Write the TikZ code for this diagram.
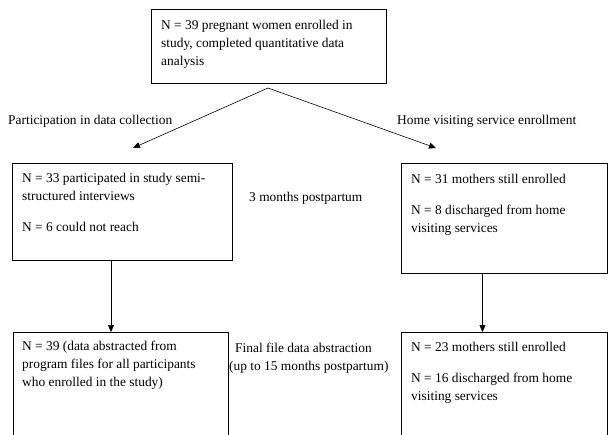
\documentclass[tikz,border=0pt]{standalone}
\usepackage{fontspec}
\setmainfont{Liberation Serif}
\usetikzlibrary{arrows.meta}
\begin{document}
\begin{tikzpicture}[x=1pt,y=-1pt,
  box/.style={draw, line width=0.75pt, rectangle, inner sep=0pt, outer sep=0pt, anchor=north west},
  txt/.style={anchor=base west, inner sep=0pt, font=\fontsize{13.4}{18}\selectfont},
  arr/.style={line width=0.6pt, -{Triangle[length=7pt,width=6pt]}}]
\useasboundingbox (0,0) rectangle (610,434);
\clip (0,0) rectangle (610,434);
% boxes
\node[box, minimum width=235pt, minimum height=74pt] (top) at (151.5,9) {};
\node[box, minimum width=220pt, minimum height=97pt] (midL) at (12.5,163) {};
\node[box, minimum width=205.5pt, minimum height=110pt] (midR) at (401.5,163) {};
\node[box, minimum width=215pt, minimum height=120pt] (botL) at (13,332) {};
\node[box, minimum width=205.5pt, minimum height=120pt] (botR) at (401.5,332) {};
% texts in boxes
\node[txt] (top1) at (161,29) {N = 39 pregnant women enrolled in};
\node[txt] (top2) at (161,47) {study, completed quantitative data};
\node[txt] (top3) at (161,65) {analysis};
\node[txt] (ml1) at (22,182) {N = 33 participated in study semi-};
\node[txt] (ml2) at (22,200) {structured interviews};
\node[txt] (ml3) at (22,231) {N = 6 could not reach};
\node[txt] (mr1) at (411,183) {N = 31 mothers still enrolled};
\node[txt] (mr2) at (411,214) {N = 8 discharged from home};
\node[txt] (mr3) at (411,232) {visiting services};
\node[txt] (bl1) at (22,350) {N = 39 (data abstracted from};
\node[txt] (bl2) at (22,368) {program files for all participants};
\node[txt] (bl3) at (22,386) {who enrolled in the study)};
\node[txt] (br1) at (411,351) {N = 23 mothers still enrolled};
\node[txt] (br2) at (411,382) {N = 16 discharged from home};
\node[txt] (br3) at (411,400) {visiting services};
% free labels
\node[txt] (labL) at (8,124.5) {Participation in data collection};
\node[txt] (labR) at (397,124.5) {Home visiting service enrollment};
\node[txt] (lab3) at (249,201) {3 months postpartum};
\node[txt] (labF1) at (235,352.5) {Final file data abstraction};
\node[txt] (labF2) at (229,370.5) {(up to 15 months postpartum)};
% connectors
\coordinate (apex) at (268,88);
\coordinate (tipL) at (133,148);
\coordinate (tipR) at (436,148);
\coordinate (xL) at (111,0);
\coordinate (xR) at (482.5,0);
\draw[arr] (apex) -- (tipL);
\draw[arr] (apex) -- (tipR);
\draw[arr] (midL.south -| xL) -- (botL.north -| xL);
\draw[arr] (midR.south -| xR) -- (botR.north -| xR);
\end{tikzpicture}
\end{document}
